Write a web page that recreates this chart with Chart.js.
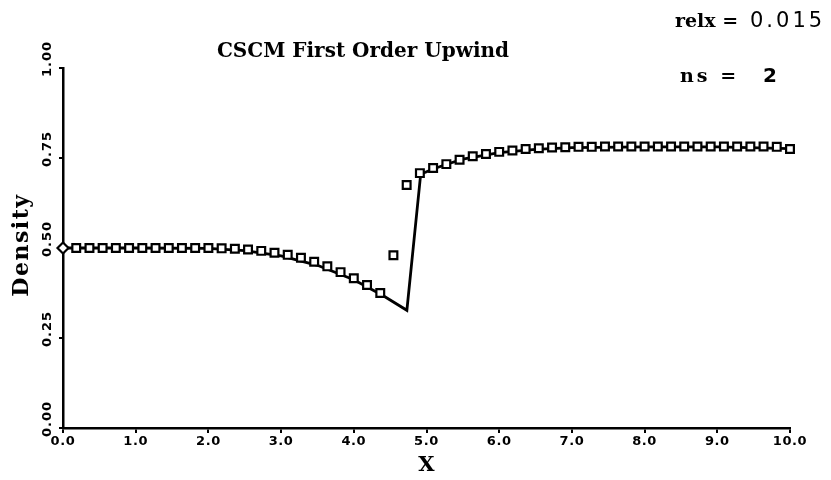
<!DOCTYPE html>
<html>
<head>
<meta charset="utf-8">
<script src="https://cdn.jsdelivr.net/npm/chart.js@4.4.0/dist/chart.umd.min.js"></script>
<style>
  html, body { margin: 0; padding: 0; background: #fff; }
  #wrap { width: 831px; height: 480px; position: relative; }
</style>
</head>
<body>
<div id="wrap"><canvas id="densityChart"></canvas></div>
<script>
// computed solution (squares), one per cell, x from 0 to 10
const cellX = [
  0.000, 0.182, 0.364, 0.545, 0.727, 0.909, 1.091, 1.273, 1.455, 1.636,
  1.818, 2.000, 2.182, 2.364, 2.545, 2.727, 2.909, 3.091, 3.273, 3.455,
  3.636, 3.818, 4.000, 4.182, 4.364, 4.545, 4.727, 4.909, 5.091, 5.273,
  5.455, 5.636, 5.818, 6.000, 6.182, 6.364, 6.545, 6.727, 6.909, 7.091,
  7.273, 7.455, 7.636, 7.818, 8.000, 8.182, 8.364, 8.545, 8.727, 8.909,
  9.091, 9.273, 9.455, 9.636, 9.818, 10.000
];
const cellDensity = [
  0.500, 0.500, 0.500, 0.500, 0.500, 0.500, 0.500, 0.500, 0.500, 0.500,
  0.500, 0.500, 0.499, 0.498, 0.496, 0.492, 0.487, 0.481, 0.473, 0.462,
  0.449, 0.433, 0.416, 0.397, 0.375, 0.480, 0.675, 0.708, 0.722, 0.733,
  0.745, 0.755, 0.761, 0.767, 0.771, 0.775, 0.777, 0.779, 0.780, 0.781,
  0.781, 0.782, 0.782, 0.782, 0.782, 0.782, 0.782, 0.782, 0.782, 0.782,
  0.782, 0.782, 0.782, 0.782, 0.781, 0.775
];

// reference solution (solid line)
const exactX = [0.0, 1.0, 2.0, 2.5, 3.0, 3.5, 4.0, 4.4, 4.73, 4.92, 5.1, 5.3, 5.5, 6.0, 6.5, 7.0, 8.0, 9.0, 10.0];
const exactDensity = [0.500, 0.500, 0.499, 0.493, 0.478, 0.452, 0.412, 0.368, 0.327, 0.705, 0.720, 0.734, 0.747, 0.765, 0.774, 0.779, 0.781, 0.781, 0.776];

const xTicks = [0, 1, 2, 3, 4, 5, 6, 7, 8, 9, 10];
const yTicks = [0, 0.25, 0.5, 0.75, 1.0];

const titleText = 'CSCM First Order Upwind';
const relxLabel = 'relx =';
const relxValue = '0.015';
const nsLabel = 'ns =';
const nsValue = '2';

const serif = "'DejaVu Serif', 'Liberation Serif', serif";
const sans = "'DejaVu Sans', 'Liberation Sans', sans-serif";

// draws the title, the rotated y labels and the note texts
const textPlugin = {
  id: 'textPlugin',
  beforeDraw(chart) {
    // a little spacing for the x tick labels drawn by the scale
    chart.ctx.letterSpacing = '0.6px';
  },
  afterDraw(chart) {
    const ctx = chart.ctx;
    const yScale = chart.scales.y;
    const area = chart.chartArea;
    ctx.save();
    ctx.fillStyle = '#000';
    ctx.textBaseline = 'middle';

    ctx.letterSpacing = '0px';
    ctx.font = 'bold 20px ' + serif;
    ctx.textAlign = 'center';
    ctx.fillText(titleText, 363, 52);

    ctx.font = 'bold 21px ' + serif;
    ctx.fillText('X', (area.left + area.right) / 2, 466);

    ctx.textAlign = 'left';
    ctx.font = 'bold 19px ' + serif;
    ctx.fillText(relxLabel, 675, 22);
    ctx.letterSpacing = '3px';
    ctx.fillText(nsLabel, 680, 77);
    ctx.font = '21px ' + sans;
    ctx.letterSpacing = '3px';
    ctx.fillText(relxValue, 750, 22);
    ctx.letterSpacing = '0px';
    ctx.font = 'bold 20px ' + sans;
    ctx.fillText(nsValue, 763, 77);

    // y tick labels, rotated, sitting a bit above their ticks
    ctx.font = 'bold 13px ' + sans;
    ctx.letterSpacing = '1px';
    ctx.textAlign = 'center';
    yTicks.forEach(v => {
      ctx.save();
      ctx.translate(48, yScale.getPixelForValue(v) - 9);
      ctx.rotate(-Math.PI / 2);
      ctx.fillText(v.toFixed(2), 0, 0);
      ctx.restore();
    });

    ctx.font = 'bold 22px ' + serif;
    ctx.letterSpacing = '1.5px';
    ctx.save();
    ctx.translate(22, 245);
    ctx.rotate(-Math.PI / 2);
    ctx.fillText('Density', 0, 0);
    ctx.restore();

    ctx.letterSpacing = '0px';
    ctx.restore();
    ctx.letterSpacing = '0px';
  }
};

const ctx = document.getElementById('densityChart').getContext('2d');
new Chart(ctx, {
  type: 'scatter',
  data: {
    datasets: [
      {
        label: 'computed',
        data: cellX.map((x, i) => ({ x: x, y: cellDensity[i] })),
        showLine: false,
        clip: false,
        pointStyle: c => (c.dataIndex === 0 ? 'rectRot' : 'rect'),
        pointRadius: 5.5,
        pointBorderWidth: 2.2,
        pointBackgroundColor: '#fff',
        pointBorderColor: '#000',
        order: 0
      },
      {
        label: 'reference',
        data: exactX.map((x, i) => ({ x: x, y: exactDensity[i] })),
        showLine: true,
        clip: false,
        borderColor: '#000',
        borderWidth: 2.8,
        pointRadius: 0,
        tension: 0,
        order: 1
      }
    ]
  },
  options: {
    responsive: true,
    maintainAspectRatio: false,
    animation: false,
    layout: { padding: { top: 68, right: 41, left: 0, bottom: 0 } },
    plugins: {
      legend: { display: false },
      tooltip: { enabled: false }
    },
    scales: {
      x: {
        type: 'linear',
        min: 0,
        max: 10,
        afterBuildTicks: s => { s.ticks = xTicks.map(v => ({ value: v })); },
        afterFit: s => { s.height = 52; },
        ticks: {
          color: '#000',
          padding: 1,
          maxRotation: 0,
          font: { family: sans, size: 13, weight: 'bold' },
          callback: v => Number(v).toFixed(1)
        },
        grid: { drawOnChartArea: false, drawTicks: true, tickLength: 5, color: '#000', lineWidth: 2 },
        border: { color: '#000', width: 2.5 }
      },
      y: {
        min: 0,
        max: 1,
        afterBuildTicks: s => { s.ticks = yTicks.map(v => ({ value: v })); },
        afterFit: s => { s.width = 63; },
        ticks: { callback: () => '' },
        grid: { drawOnChartArea: false, drawTicks: true, tickLength: 4, color: '#000', lineWidth: 2 },
        border: { color: '#000', width: 2.5 }
      }
    }
  },
  plugins: [textPlugin]
});
</script>
</body>
</html>
